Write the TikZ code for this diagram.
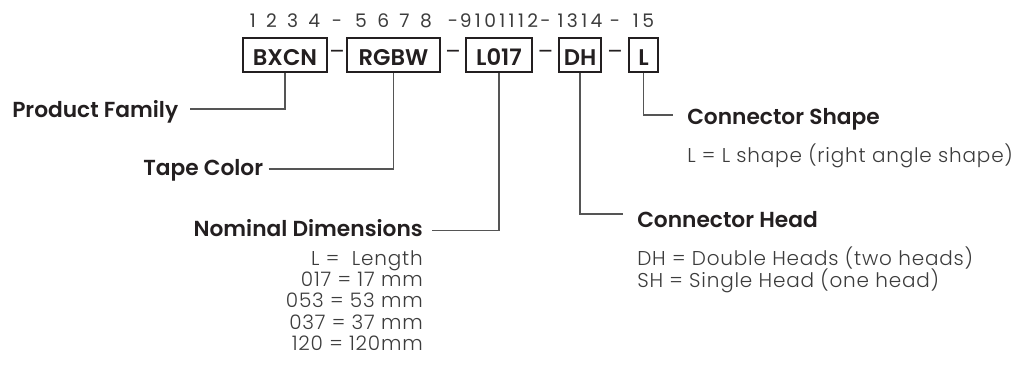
\documentclass[tikz,border=0pt]{standalone}
\usepackage{fontspec}
\setmainfont{Poppins}
\newfontfamily\semifont{Poppins SemiBold}
\newfontfamily\thinfont{Poppins Light}
\definecolor{ink}{HTML}{231F20}
\definecolor{soft}{HTML}{3C3C3C}
\definecolor{wire}{HTML}{555555}
\tikzset{
	codebox/.style = {draw = ink, line width = .9pt, inner sep = 0, minimum height = 25.5pt, text height = 16pt, text depth = 0pt, text = ink, font = \semifont\fontsize{17}{20}\selectfont},
	digits/.style = {text = soft, font = \fontsize{14}{16}\selectfont\addfontfeature{LetterSpace = 18}, inner sep = 0},
	joiner/.style = {text = ink, font = \fontsize{17}{20}\selectfont, inner sep = 0},
	head/.style = {text = ink, font = \semifont\fontsize{16.3}{19}\selectfont, inner sep = 0},
	desc/.style = {text = soft, font = \thinfont\fontsize{15}{18}\selectfont\addfontfeature{LetterSpace = 4}, inner sep = 0},
	wire/.style = {draw = wire, line width = .8pt},
}
\newcommand{\gap}{\kern1.5pt}
\begin{document}
\begin{tikzpicture}[x = .75pt, y = -.75pt]
\useasboundingbox (0, 0) rectangle (1021, 375);
\coordinate (toprow) at (0, 27);
% part number boxes
\node [codebox, minimum width = 63pt] (bxcn) at (285, 55) {BXCN};
\node [codebox, minimum width = 69.75pt] (rgbw) at (393.5, 55) {RGBW};
\node [codebox, minimum width = 49.5pt] (len) at (499, 55) {L017};
\node [codebox, minimum width = 31.5pt] (head) at (580, 55) {DH};
\node [codebox, minimum width = 21.75pt] (shape) at (643.5, 55) {L};
\foreach \n/\t in {bxcn/1 \gap2 \gap3 \gap4, rgbw/5 \gap6 \gap7 \gap8, len/9101112, head/1314, shape/15}{
	\node [digits, anchor = base] (\n-num) at (\n.north |- toprow) {\t};
};
\foreach \a/\b in {bxcn/rgbw, rgbw/len, len/head, head/shape}{
	\path (\a.east) -- node [joiner] (\a-dash) {--} (\b.west);
	\node [digits, anchor = base] (\a-sep) at (\a-dash |- toprow) {-};
};
% left labels
\node [head, anchor = base west] (family) at (12, 117) {Product Family};
\node [head, anchor = base west] (color) at (143, 175) {Tape Color};
\node [head, anchor = base east] (dims) at (423, 236) {Nominal Dimensions};
\foreach \t [count = \k] in {L = \ Length, 017 = 17 mm, 053 = 53 mm, 037 = 37 mm, 120 = 120mm}{
	\node [desc, anchor = base east] (dims-\k) at (423, 244 + 21.25*\k) {\t};
};
\draw [wire] ([shift = {(9pt, 6pt)}]family.base east) -| (bxcn.south);
\draw [wire] ([shift = {(4pt, 4.5pt)}]color.base east) -| (rgbw.south);
\draw [wire] ([shift = {(7pt, 4pt)}]dims.base east) -| (len.south);
% right labels
\node [head, anchor = base west] (shapehd) at (687, 124) {Connector Shape};
\node [desc, anchor = base west] (shapedesc) at (687, 162) {L = L shape (right angle shape)};
\node [head, anchor = base west] (headhd) at (637, 227) {Connector Head};
\node [desc, anchor = base west] (headdesc1) at (637, 265) {DH = Double Heads (two heads)};
\node [desc, anchor = base west] (headdesc2) at (637, 287) {SH = Single Head (one head)};
\draw [wire] (shape.south) |- ([shift = {(-10.5pt, 6.75pt)}]shapehd.base west);
\draw [wire] (head.south) |- ([shift = {(-10.5pt, 9.75pt)}]headhd.base west);
\end{tikzpicture}
\end{document}
